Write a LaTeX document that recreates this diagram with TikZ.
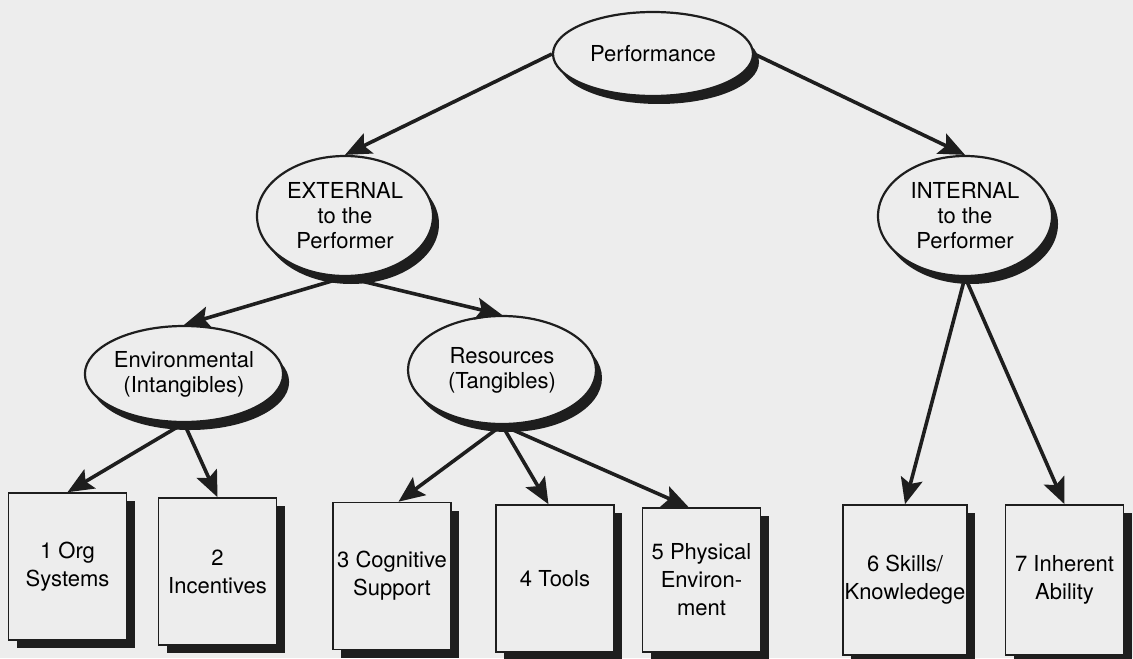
\documentclass[tikz,border=0pt]{standalone}
\usepackage{fontspec}
\setmainfont{TeX Gyre Heros}
\usepackage{tikz}
\usetikzlibrary{arrows.meta,shapes.geometric,shadows}
\definecolor{paper}{HTML}{EDEDED}
\definecolor{ink}{HTML}{1E1E1E}

\tikzset{
  ovalnode/.style={ellipse, draw=ink, line width=1.1pt, fill=paper, align=center,
    inner sep=0pt, font=\fontsize{11}{12.5}\selectfont,
    drop shadow={shadow xshift=3pt, shadow yshift=-4pt, opacity=1, fill=ink}},
  factorbox/.style={rectangle, draw=ink, line width=0.8pt, fill=paper, align=center,
    inner sep=0pt, minimum width=59pt, minimum height=73.5pt,
    font=\fontsize{11}{14}\selectfont,
    drop shadow={shadow xshift=4pt, shadow yshift=-4pt, opacity=1, fill=ink}},
  link/.style={draw=ink, line width=1.8pt, -{Stealth[length=13pt,width=11pt,inset=2.5pt]}}
}

\begin{document}
\begin{tikzpicture}[x=0.5pt,y=-0.5pt]

  % papel
  \fill[paper] (0,0) rectangle (1133,658);
  \useasboundingbox (0,0) rectangle (1133,658);

  % elipses
  \node[ovalnode, minimum width=100pt, minimum height=42pt] (perf) at (653,54) {Performance};
  \node[ovalnode, minimum width=88pt, minimum height=60pt] (ext) at (345,216) {EXTERNAL\\to the\\Performer};
  \node[ovalnode, minimum width=87pt, minimum height=60pt] (int) at (965,216) {INTERNAL\\to the\\Performer};
  \node[ovalnode, minimum width=98pt, minimum height=48pt] (env) at (184,374) {Environmental\\(Intangibles)};
  \node[ovalnode, minimum width=94pt, minimum height=54pt] (res) at (502,370) {Resources\\(Tangibles)};

  % caixas
  \node[factorbox] (org)   at (67.5,566.5) {1 Org\\Systems};
  \node[factorbox] (inc)   at (217.5,571.5) {2\\Incentives};
  \node[factorbox] (cog)   at (392,576) {3 Cognitive\\Support};
  \node[factorbox] (tools) at (555,578.5) {4 Tools};
  \node[factorbox, minimum height=72pt] (phys) at (701.5,580) {5 Physical\\Environ-\\ment};
  \node[factorbox, minimum width=62pt, minimum height=75pt] (skill) at (905,580) {6 Skills/\\Knowledege};
  \node[factorbox, minimum height=75pt] (abil)  at (1064.5,580) {7 Inherent\\Ability};

  % setas
  \draw[link] (perf.west) -- (ext.north);
  \draw[link] (perf.east) -- (int.north);
  \draw[link] (ext.south) -- (env.north);
  \draw[link] (ext.south) -- (res.north);
  \draw[link] (env.south) -- (org.north);
  \draw[link] (env.south) -- (inc.north);
  \draw[link] (res.south) -- (cog.85);
  \draw[link] (res.south) -- (tools.95);
  \draw[link] (res.south) -- (phys.100);
  \draw[link] (int.south) -- (skill.north);
  \draw[link] (int.south) -- (abil.north);

\end{tikzpicture}
\end{document}
